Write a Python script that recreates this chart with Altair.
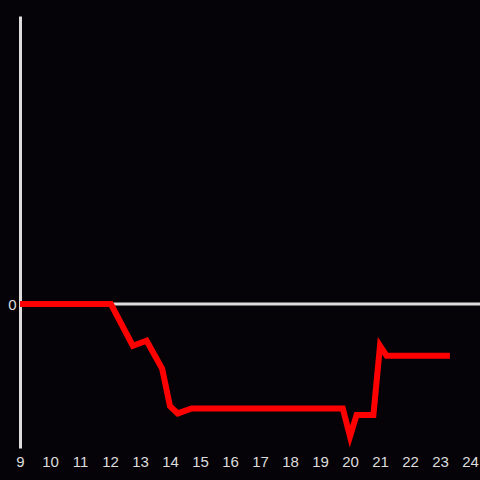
import altair as alt
import pandas as pd

hours = [9.0, 12.03, 12.76, 13.22, 13.74, 14.0, 14.26, 14.72, 19.76, 20.0, 20.22, 20.78, 21.0, 21.22, 23.33]
values = [0.0, 0.0, -0.29, -0.255, -0.45, -0.71, -0.76, -0.725, -0.725, -0.92, -0.77, -0.77, -0.29, -0.36, -0.36]
x_ticks = list(range(9, 25))

df = pd.DataFrame({"hour": hours, "value": values})
zero_df = pd.DataFrame({"value": [0]})

x_scale = alt.Scale(domain=[9, 24.333], nice=False, zero=False)
y_scale = alt.Scale(domain=[-1, 2], nice=False)

zero_rule = alt.Chart(zero_df).mark_rule(color="#dddddd", strokeWidth=3).encode(
    y=alt.Y("value:Q", scale=y_scale)
)

line = alt.Chart(df).mark_line(color="#ff0000", strokeWidth=6, strokeJoin="miter").encode(
    x=alt.X("hour:Q", scale=x_scale, title=None,
            axis=alt.Axis(values=x_ticks, domain=False, ticks=False, grid=False,
                          labelColor="#dddddd", labelFontSize=15, labelFont="Liberation Sans",
                          labelPadding=6, labelFlush=False, labelOverlap=False, format="d")),
    y=alt.Y("value:Q", scale=y_scale, title=None,
            axis=alt.Axis(values=[0], domain=True, domainColor="#dddddd", domainWidth=3,
                          ticks=False, grid=False, labelColor="#dddddd", labelFontSize=15,
                          labelFont="Liberation Sans", labelPadding=4, format="d")),
)

chart = alt.layer(zero_rule, line).properties(
    width=460, height=432,
    padding={"left": 20, "top": 16, "right": 0, "bottom": 30},
    autosize=alt.AutoSizeParams(type="none"),
    background="#050308",
).configure_view(stroke=None)

chart.save("out.html", embed_options={
    "renderer": "svg", "actions": False,
    "defaultStyle": "body{margin:0;background:#050308;overflow:hidden}",
})
